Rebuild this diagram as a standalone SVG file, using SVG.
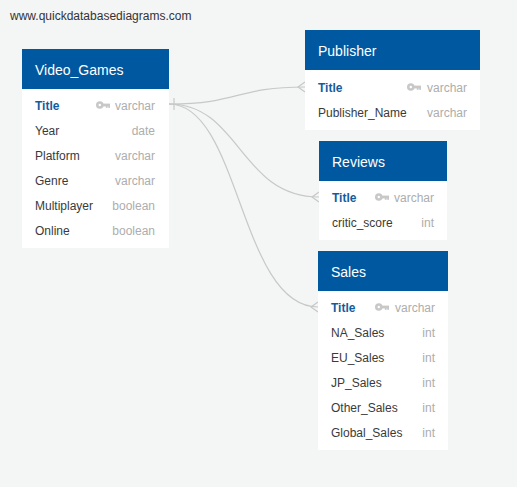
<svg xmlns="http://www.w3.org/2000/svg" width="517" height="487" viewBox="0 0 517 487">
<defs>
<style>
.hdr{fill:#0059a0}
.body{fill:#ffffff}
.ht{font-family:"Liberation Sans",Arial,sans-serif;font-size:14px;fill:#ffffff}
.pk{font-family:"Liberation Sans",Arial,sans-serif;font-size:12px;font-weight:bold;fill:#135c9e}
.fn{font-family:"Liberation Sans",Arial,sans-serif;font-size:12px;fill:#3a3a3a}
.ty{font-family:"Liberation Sans",Arial,sans-serif;font-size:12px;fill:#adadad;text-anchor:end}
.conn{fill:none;stroke:#c8c8c8;stroke-width:1.2}
.key{fill:#c8c8c8}
</style>
<symbol id="keyicon" viewBox="0 0 14 8" overflow="visible">
<circle cx="3.8" cy="4" r="3.8" class="key"/>
<circle cx="3.8" cy="4" r="1.2" fill="#ffffff"/>
<rect x="6" y="2.6" width="8" height="2.8" class="key"/>
<rect x="9.8" y="4" width="1.8" height="2.8" class="key"/>
<rect x="12.2" y="4" width="1.8" height="2.8" class="key"/>
</symbol>
</defs>
<rect width="517" height="487" fill="#f4f5f5"/>
<text x="10" y="20" font-family="'Liberation Sans',Arial,sans-serif" font-size="12" fill="#333333">www.quickdatabasediagrams.com</text>

<g id="connectors">
<path class="conn" d="M169 104 C240 104 235 87 305 87"/>
<path class="conn" d="M169 104 C240 104 240 197 319 197"/>
<path class="conn" d="M169 104 C240 104 240 307 318 307"/>
<path class="conn" d="M174 98 V110"/>
<path class="conn" d="M305 82 L298 87 L305 92"/>
<path class="conn" d="M319 192 L312 197 L319 202"/>
<path class="conn" d="M318 302 L311 307 L318 312"/>
</g>

<g id="Video_Games">
<rect class="hdr" x="22" y="49" width="147" height="40"/>
<rect class="body" x="22" y="89" width="147" height="159"/>
<text class="ht" x="35" y="75">Video_Games</text>
<text class="pk" x="35" y="110">Title</text>
<use href="#keyicon" x="96" y="101" width="14" height="8"/>
<text class="ty" x="155" y="110">varchar</text>
<text class="fn" x="35" y="135">Year</text><text class="ty" x="155" y="135">date</text>
<text class="fn" x="35" y="160">Platform</text><text class="ty" x="155" y="160">varchar</text>
<text class="fn" x="35" y="185">Genre</text><text class="ty" x="155" y="185">varchar</text>
<text class="fn" x="35" y="210">Multiplayer</text><text class="ty" x="155" y="210">boolean</text>
<text class="fn" x="35" y="235">Online</text><text class="ty" x="155" y="235">boolean</text>
</g>

<g id="Publisher">
<rect class="hdr" x="305" y="30" width="175" height="40"/>
<rect class="body" x="305" y="70" width="175" height="60"/>
<text class="ht" x="318" y="56">Publisher</text>
<text class="pk" x="318" y="92">Title</text>
<use href="#keyicon" x="407" y="83" width="14" height="8"/>
<text class="ty" x="467" y="92">varchar</text>
<text class="fn" x="318" y="117">Publisher_Name</text><text class="ty" x="467" y="117">varchar</text>
</g>

<g id="Reviews">
<rect class="hdr" x="319" y="141" width="128" height="40"/>
<rect class="body" x="319" y="181" width="128" height="59"/>
<text class="ht" x="332" y="167">Reviews</text>
<text class="pk" x="332" y="202">Title</text>
<use href="#keyicon" x="375" y="193" width="14" height="8"/>
<text class="ty" x="434" y="202">varchar</text>
<text class="fn" x="332" y="227">critic_score</text><text class="ty" x="434" y="227">int</text>
</g>

<g id="Sales">
<rect class="hdr" x="318" y="251" width="130" height="40"/>
<rect class="body" x="318" y="291" width="130" height="159"/>
<text class="ht" x="331" y="277">Sales</text>
<text class="pk" x="331" y="312">Title</text>
<use href="#keyicon" x="375" y="303" width="14" height="8"/>
<text class="ty" x="435" y="312">varchar</text>
<text class="fn" x="331" y="337">NA_Sales</text><text class="ty" x="435" y="337">int</text>
<text class="fn" x="331" y="362">EU_Sales</text><text class="ty" x="435" y="362">int</text>
<text class="fn" x="331" y="387">JP_Sales</text><text class="ty" x="435" y="387">int</text>
<text class="fn" x="331" y="412">Other_Sales</text><text class="ty" x="435" y="412">int</text>
<text class="fn" x="331" y="437">Global_Sales</text><text class="ty" x="435" y="437">int</text>
</g>
</svg>
